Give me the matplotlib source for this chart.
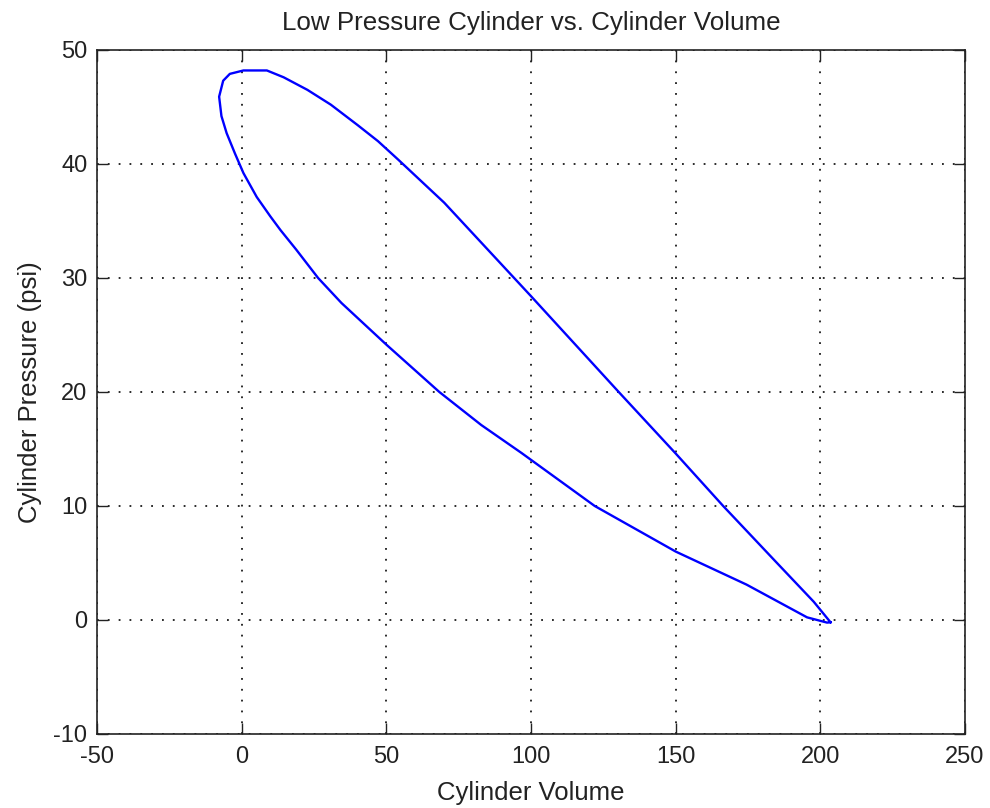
import matplotlib
matplotlib.use("Agg")
import matplotlib.pyplot as plt

# going round the loop:
# upper branch from the right tip up to the peak, then down the lower branch
volume = [203.5, 197.7, 185.0, 166.4, 150.0, 130.3, 100.0, 70.0, 54.0,
          47.1, 40.1, 30.8, 22.7, 14.5, 8.7, 0.6, -4.1, -6.4, -7.8,
          -7.0, -5.2, -2.3, 0.6, 5.2, 9.9, 13.4, 18.8, 26.4, 34.5, 50.0, 68.3,
          82.8, 96.7, 122.0, 150.0, 174.5, 195.4, 202.3, 203.5]
pressure = [-0.2, 1.6, 5.0, 10.0, 14.6, 20.0, 28.4, 36.6, 40.4,
            42.0, 43.4, 45.2, 46.5, 47.6, 48.2, 48.2, 47.9, 47.3, 45.9,
            44.2, 42.7, 40.9, 39.2, 37.1, 35.4, 34.2, 32.5, 30.0, 27.8, 24.15, 20.0,
            17.1, 14.65, 10.0, 6.0, 3.1, 0.23, -0.23, -0.2]

xticks = [-50, 0, 50, 100, 150, 200, 250]
yticks = [-10, 0, 10, 20, 30, 40, 50]

plt.rcParams["font.family"] = ["Liberation Sans", "DejaVu Sans"]
plt.rcParams["font.size"] = 17
plt.rcParams["axes.unicode_minus"] = False

fig = plt.figure(figsize=(9.9, 8.08), dpi=100)
ax = fig.add_axes([0.098, 0.0916, 0.8768, 0.8466])

ax.plot(volume, pressure, color="#0000ff", lw=1.7, solid_joinstyle="round")

ax.set_xlim(-50, 250)
ax.set_ylim(-10, 50)
ax.set_xticks(xticks)
ax.set_yticks(yticks)
ax.grid(True, color="#1a1a1a", linestyle=(0, (1, 5)), lw=1.3)
ax.tick_params(direction="in", top=True, right=True, length=8, width=1,
               colors="#222222", labelsize=17)
ax.tick_params(axis="y", pad=7)
ax.tick_params(axis="x", pad=9)
for s in ax.spines.values():
    s.set_color("#222222")
    s.set_linewidth(1.2)

ax.set_title("Low Pressure Cylinder vs. Cylinder Volume", pad=14, color="#222222",
             fontsize=18.7)
ax.set_xlabel("Cylinder Volume", color="#222222", labelpad=9, fontsize=18.5)
ax.set_ylabel("Cylinder Pressure (psi)", color="#222222", labelpad=8, fontsize=18.5)

fig.savefig("out.png", dpi=100)
